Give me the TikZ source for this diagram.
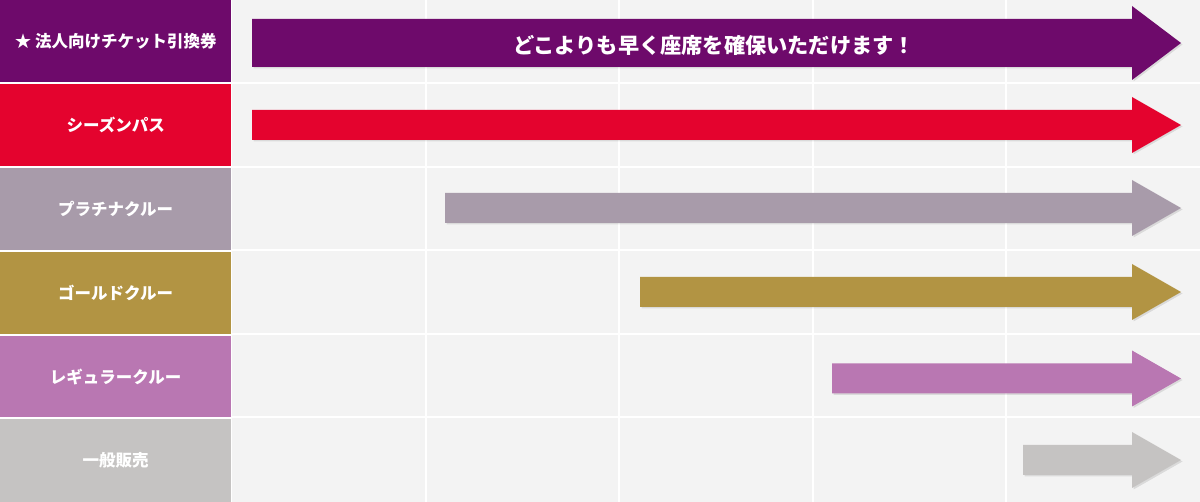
\documentclass[tikz,border=0pt]{standalone}
\usepackage{fontspec}
\newfontfamily\jp{Noto Sans CJK JP}
\definecolor{cCorp}{HTML}{6E0A6B}
\definecolor{cSeason}{HTML}{E4032E}
\definecolor{cPlat}{HTML}{A89BAA}
\definecolor{cGold}{HTML}{B29443}
\definecolor{cReg}{HTML}{B977B2}
\definecolor{cGen}{HTML}{C5C3C2}
\definecolor{cGrid}{HTML}{F3F3F3}
\tikzset{
  labelcell/.style={minimum width=231pt, minimum height=82pt, inner sep=0pt, anchor=north west, text=white, font=\jp\bfseries\fontsize{16.5}{18}\selectfont},
  arrowtext/.style={text=white, font=\jp\bfseries\fontsize{21.2}{23}\selectfont},
  gridline/.style={white, line width=2pt}
}
\newcommand\bararrow[5]{% color, x0, center, shaft h, head H
  \fill[black, opacity=0.10, shift={(1.5,1.5)}] (#2,#3-#4/2) -- (1132,#3-#4/2) -- (1132,#3-#5/2) -- (1181,#3) -- (1132,#3+#5/2) -- (1132,#3+#4/2) -- (#2,#3+#4/2) -- cycle;
  \fill[#1] (#2,#3-#4/2) -- (1132,#3-#4/2) -- (1132,#3-#5/2) -- (1181,#3) -- (1132,#3+#5/2) -- (1132,#3+#4/2) -- (#2,#3+#4/2) -- cycle;
}
\begin{document}
\begin{tikzpicture}[x=1pt,y=-1pt]
\useasboundingbox (0,0) rectangle (1200,502);
\fill[white] (0,0) rectangle (1200,502);
\fill[cGrid] (232,0) rectangle (1200,502);
% grid lines
\foreach \y in {83,167,250.5,334.5,417.5} \draw[gridline] (232,\y) -- (1200,\y);
\foreach \x in {426,619,813,1006} \draw[gridline] (\x,0) -- (\x,502);
% left labels
\node[labelcell, fill=cCorp, minimum height=82pt] (l1) at (0,0) {★ 法人向けチケット引換券};
\node[labelcell, fill=cSeason, minimum height=82pt] (l2) at (0,84) {シーズンパス};
\node[labelcell, fill=cPlat, minimum height=81.5pt] (l3) at (0,168) {プラチナクルー};
\node[labelcell, fill=cGold, minimum height=81.5pt] (l4) at (0,252) {ゴールドクルー};
\node[labelcell, fill=cReg, minimum height=81pt] (l5) at (0,336) {レギュラークルー};
\node[labelcell, fill=cGen, minimum height=83pt] (l6) at (0,419) {一般販売};
% arrows
\bararrow{cCorp}{252}{43}{48}{74}
\bararrow{cSeason}{252}{125}{30}{56}
\bararrow{cPlat}{445}{208}{30}{56}
\bararrow{cGold}{640}{292}{30}{56}
\bararrow{cReg}{832}{378.5}{30}{56}
\bararrow{cGen}{1023}{460}{30}{56}
\node[arrowtext] (msg) at (714,45) {どこよりも早く座席を確保いただけます！};
\end{tikzpicture}
\end{document}
